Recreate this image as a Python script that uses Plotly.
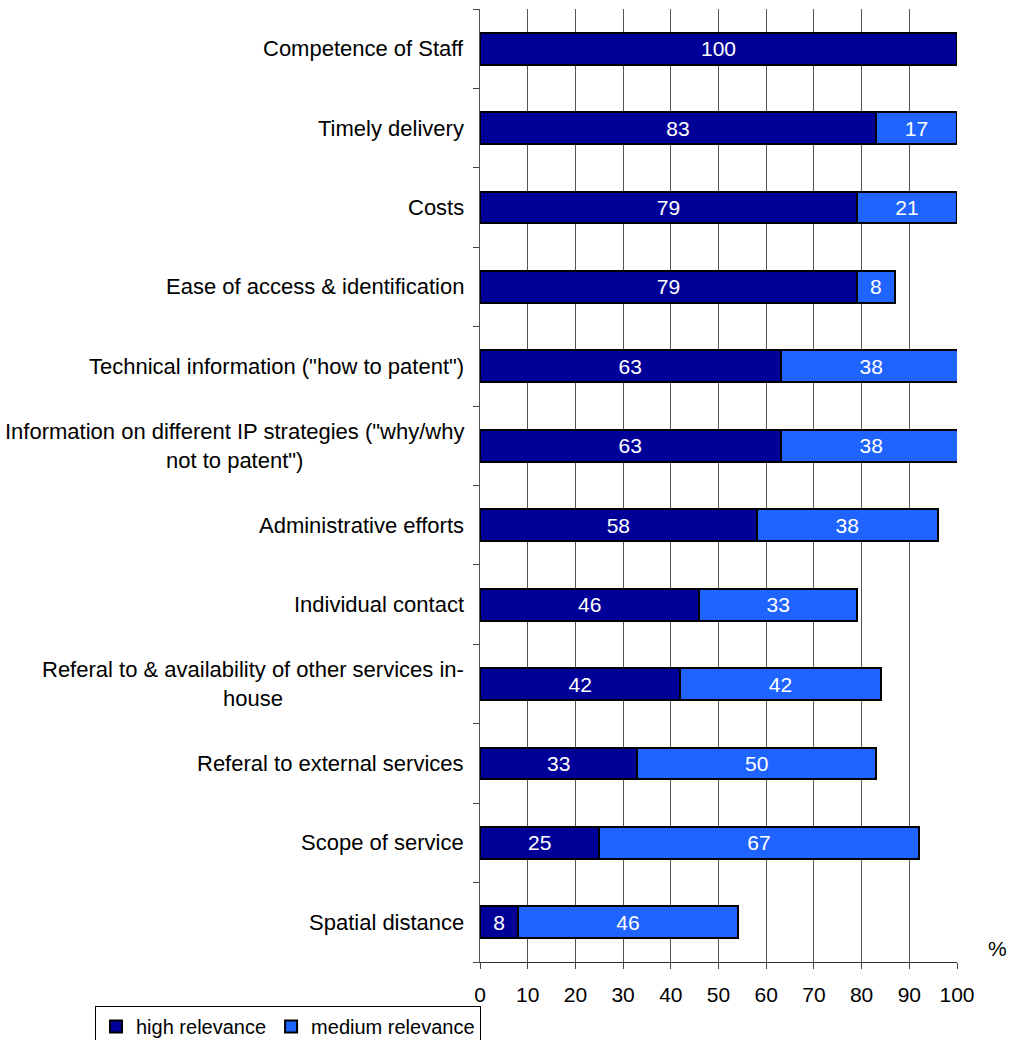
import plotly.graph_objects as go

# Survey: relevance of service attributes (% of respondents)
categories = [
    "Competence of Staff",
    "Timely delivery",
    "Costs",
    "Ease of access & identification",
    "Technical information (\"how to patent\")",
    "Information on different IP strategies (\"why/why<br>not to patent\")",
    "Administrative efforts",
    "Individual contact",
    "Referal to & availability of other services in-<br>house",
    "Referal to external services",
    "Scope of service",
    "Spatial distance",
]
high_relevance = [100, 83, 79, 79, 63, 63, 58, 46, 42, 33, 25, 8]
medium_relevance = [None, 17, 21, 8, 38, 38, 38, 33, 42, 50, 67, 46]
x_ticks = [0, 10, 20, 30, 40, 50, 60, 70, 80, 90, 100]

FONT = "Liberation Sans, Arial, sans-serif"
NAVY = "#000099"
BLUE = "#1F64FF"

fig = go.Figure()
for name, vals, color in [
    ("high relevance", high_relevance, NAVY),
    ("medium relevance", medium_relevance, BLUE),
]:
    fig.add_trace(go.Bar(
        name=name,
        y=list(range(len(categories))),
        x=vals,
        orientation="h",
        marker=dict(color=color, line=dict(color="black", width=2)),
        text=[("" if v is None else str(v)) for v in vals],
        textposition="inside",
        insidetextanchor="middle",
        textangle=0,
        textfont=dict(color="white", size=21, family=FONT),
        hoverinfo="skip",
    ))

# Category labels, lines centred within each label block
annotations = [
    dict(
        text=c, xref="paper", x=0, xshift=-14, xanchor="right",
        yref="y", y=i, yanchor="middle", align="center", showarrow=False,
        font=dict(size=22, color="black", family=FONT),
    )
    for i, c in enumerate(categories)
]
annotations.append(dict(
    text="%", xref="paper", x=1.084, yref="paper", y=0, yanchor="bottom",
    xanchor="center", showarrow=False, font=dict(size=21, color="black", family=FONT),
))

fig.update_layout(
    width=1011, height=1040,
    margin=dict(l=480, r=54, t=9, b=78, autoexpand=False),
    paper_bgcolor="white", plot_bgcolor="white",
    barmode="stack", bargap=0.6,
    font=dict(family=FONT, size=21, color="black"),
    annotations=annotations,
    legend=dict(
        orientation="h",
        xref="container", x=95 / 1011, xanchor="left",
        yref="container", y=(1040 - 1006) / 1040, yanchor="top",
        bordercolor="black", borderwidth=1, itemwidth=30,
        font=dict(size=20, family=FONT, color="black"),
        traceorder="normal",
    ),
    xaxis=dict(
        range=[0, 100], tickvals=x_ticks, ticks="outside", ticklen=6,
        ticklabelstandoff=8,
        tickcolor="#444", showgrid=True, gridcolor="#555", gridwidth=1,
        showline=True, linecolor="#333", linewidth=1, zeroline=False,
        tickfont=dict(size=21, family=FONT, color="black"),
    ),
    yaxis=dict(
        type="linear", range=[len(categories) - 0.5, -0.5],
        tickvals=[i - 0.5 for i in range(len(categories) + 1)],
        showticklabels=False, ticks="outside", ticklen=6, tickcolor="#444",
        showgrid=False, showline=True, linecolor="#555", linewidth=1, zeroline=False,
    ),
)

fig.write_html("out.html")
